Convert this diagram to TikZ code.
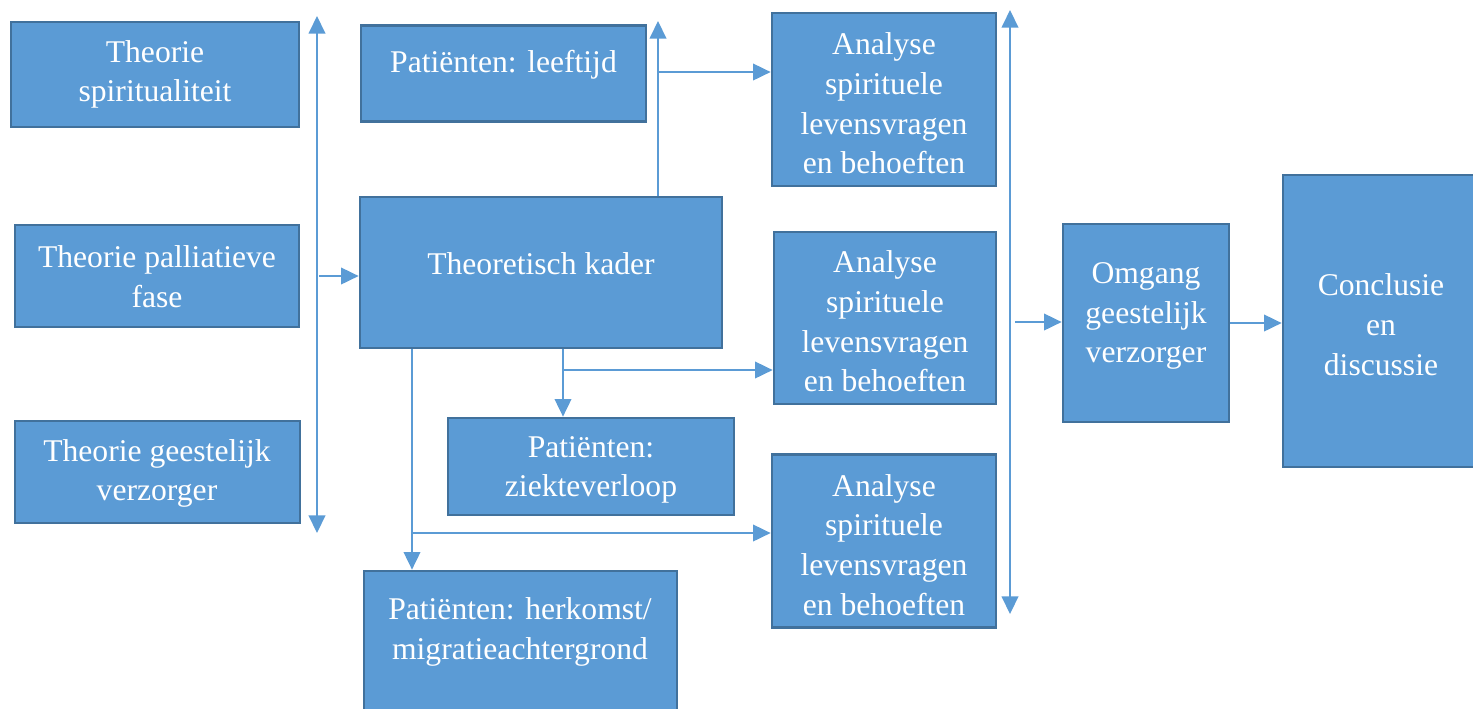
\documentclass[tikz,border=0pt]{standalone}
\usepackage{fontspec}
\setmainfont{Liberation Serif}
\usetikzlibrary{arrows.meta}
\definecolor{boxblue}{HTML}{5B9BD5}
\definecolor{boxedge}{HTML}{41719C}
\begin{document}
\begin{tikzpicture}[x=0.02cm,y=-0.02cm,>={Triangle[length=10pt,width=9.5pt]},
    box/.style={draw=boxedge,fill=boxblue,line width=1.6pt,inner sep=0pt},
    lbl/.style={text=white,align=center,inner sep=0pt,font=\fontsize{18}{22.6}\selectfont},
    link/.style={draw=boxblue,line width=0.85pt}]
  \clip (0,0) rectangle (1473,708);
  % theory blocks
  \node[box,minimum width=5.76cm,minimum height=2.10cm] (spir) at (155,74.5) {};
  \node[box,minimum width=5.68cm,minimum height=2.04cm] (pall) at (157,276) {};
  \node[box,minimum width=5.70cm,minimum height=2.04cm] (geest) at (157.5,472) {};
  \node[lbl] (spirT) at (155,74.5) {Theorie\\spiritualiteit};
  \node[lbl] (pallT) at (157,277) {Theorie palliatieve\\fase};
  \node[lbl] (geestT) at (157,473.5) {Theorie geestelijk\\verzorger};
  % kader and patients
  \node[box,minimum width=5.70cm,minimum height=1.92cm] (leeft) at (503.5,73.5) {};
  \node[box,minimum width=7.24cm,minimum height=3.02cm] (kader) at (541,272.5) {};
  \node[box,minimum width=5.72cm,minimum height=1.94cm] (ziekte) at (591,466.5) {};
  \node[box,minimum width=6.26cm,minimum height=3.36cm] (herk) at (520.5,655) {};
  \node[lbl] (leeftT) at (503.5,65) {Patiënten: leeftijd};
  \node[lbl] (kaderT) at (541,263.5) {Theoretisch kader};
  \node[lbl] (ziekteT) at (591,470) {Patiënten:\\ziekteverloop};
  \node[lbl] (herkT) at (520,632) {Patiënten: herkomst/\\migratieachtergrond};
  % analyses
  \node[box,minimum width=4.48cm,minimum height=3.46cm] (ana1) at (884,99.5) {};
  \node[box,minimum width=4.44cm,minimum height=3.44cm] (ana2) at (885,318) {};
  \node[box,minimum width=4.48cm,minimum height=3.46cm] (ana3) at (884,541) {};
  \node[lbl] (ana1T) at (884,103.5) {Analyse\\spirituele\\levensvragen\\en behoeften};
  \node[lbl] (ana2T) at (885,321.5) {Analyse\\spirituele\\levensvragen\\en behoeften};
  \node[lbl] (ana3T) at (884,545) {Analyse\\spirituele\\levensvragen\\en behoeften};
  \node[box,minimum width=3.32cm,minimum height=3.96cm] (omg) at (1146,323) {};
  \node[box,minimum width=3.88cm,minimum height=5.84cm] (concl) at (1380,321) {};
  \node[lbl] (omgT) at (1146,316) {Omgang\\geestelijk\\verzorger};
  \node[lbl] (conclT) at (1381,324.5) {Conclusie\\en\\discussie};
  % connectors
  \coordinate (lbarT) at (317,16);
  \coordinate (lbarB) at (317,533);
  \coordinate (lbarK) at (319,276);
  \coordinate (upT) at (658,21);
  \coordinate (brA) at (658,72);
  \coordinate (brB) at (563,370);
  \coordinate (brC) at (412,533);
  \coordinate (rbarT) at (1010,10);
  \coordinate (rbarB) at (1010,614);
  \coordinate (rbarO) at (1015,322);
  \draw[link,<->] (lbarT) -- (lbarB);
  \draw[link,->] (lbarK) -- (lbarK -| kader.west);
  \draw[link,->] (kader.north -| upT) -- (upT);
  \draw[link,->] (brA) -- (brA -| ana1.west);
  \draw[link,->] (kader.south -| brB) -- (ziekte.north -| brB);
  \draw[link,->] (brB) -- (brB -| ana2.west);
  \draw[link,->] (kader.south -| brC) -- (herk.north -| brC);
  \draw[link,->] (brC) -- (brC -| ana3.west);
  \draw[link,<->] (rbarT) -- (rbarB);
  \draw[link,->] (rbarO) -- (rbarO -| omg.west);
  \draw[link,->] (omg.east) -- (omg.east -| concl.west);
\end{tikzpicture}
\end{document}
